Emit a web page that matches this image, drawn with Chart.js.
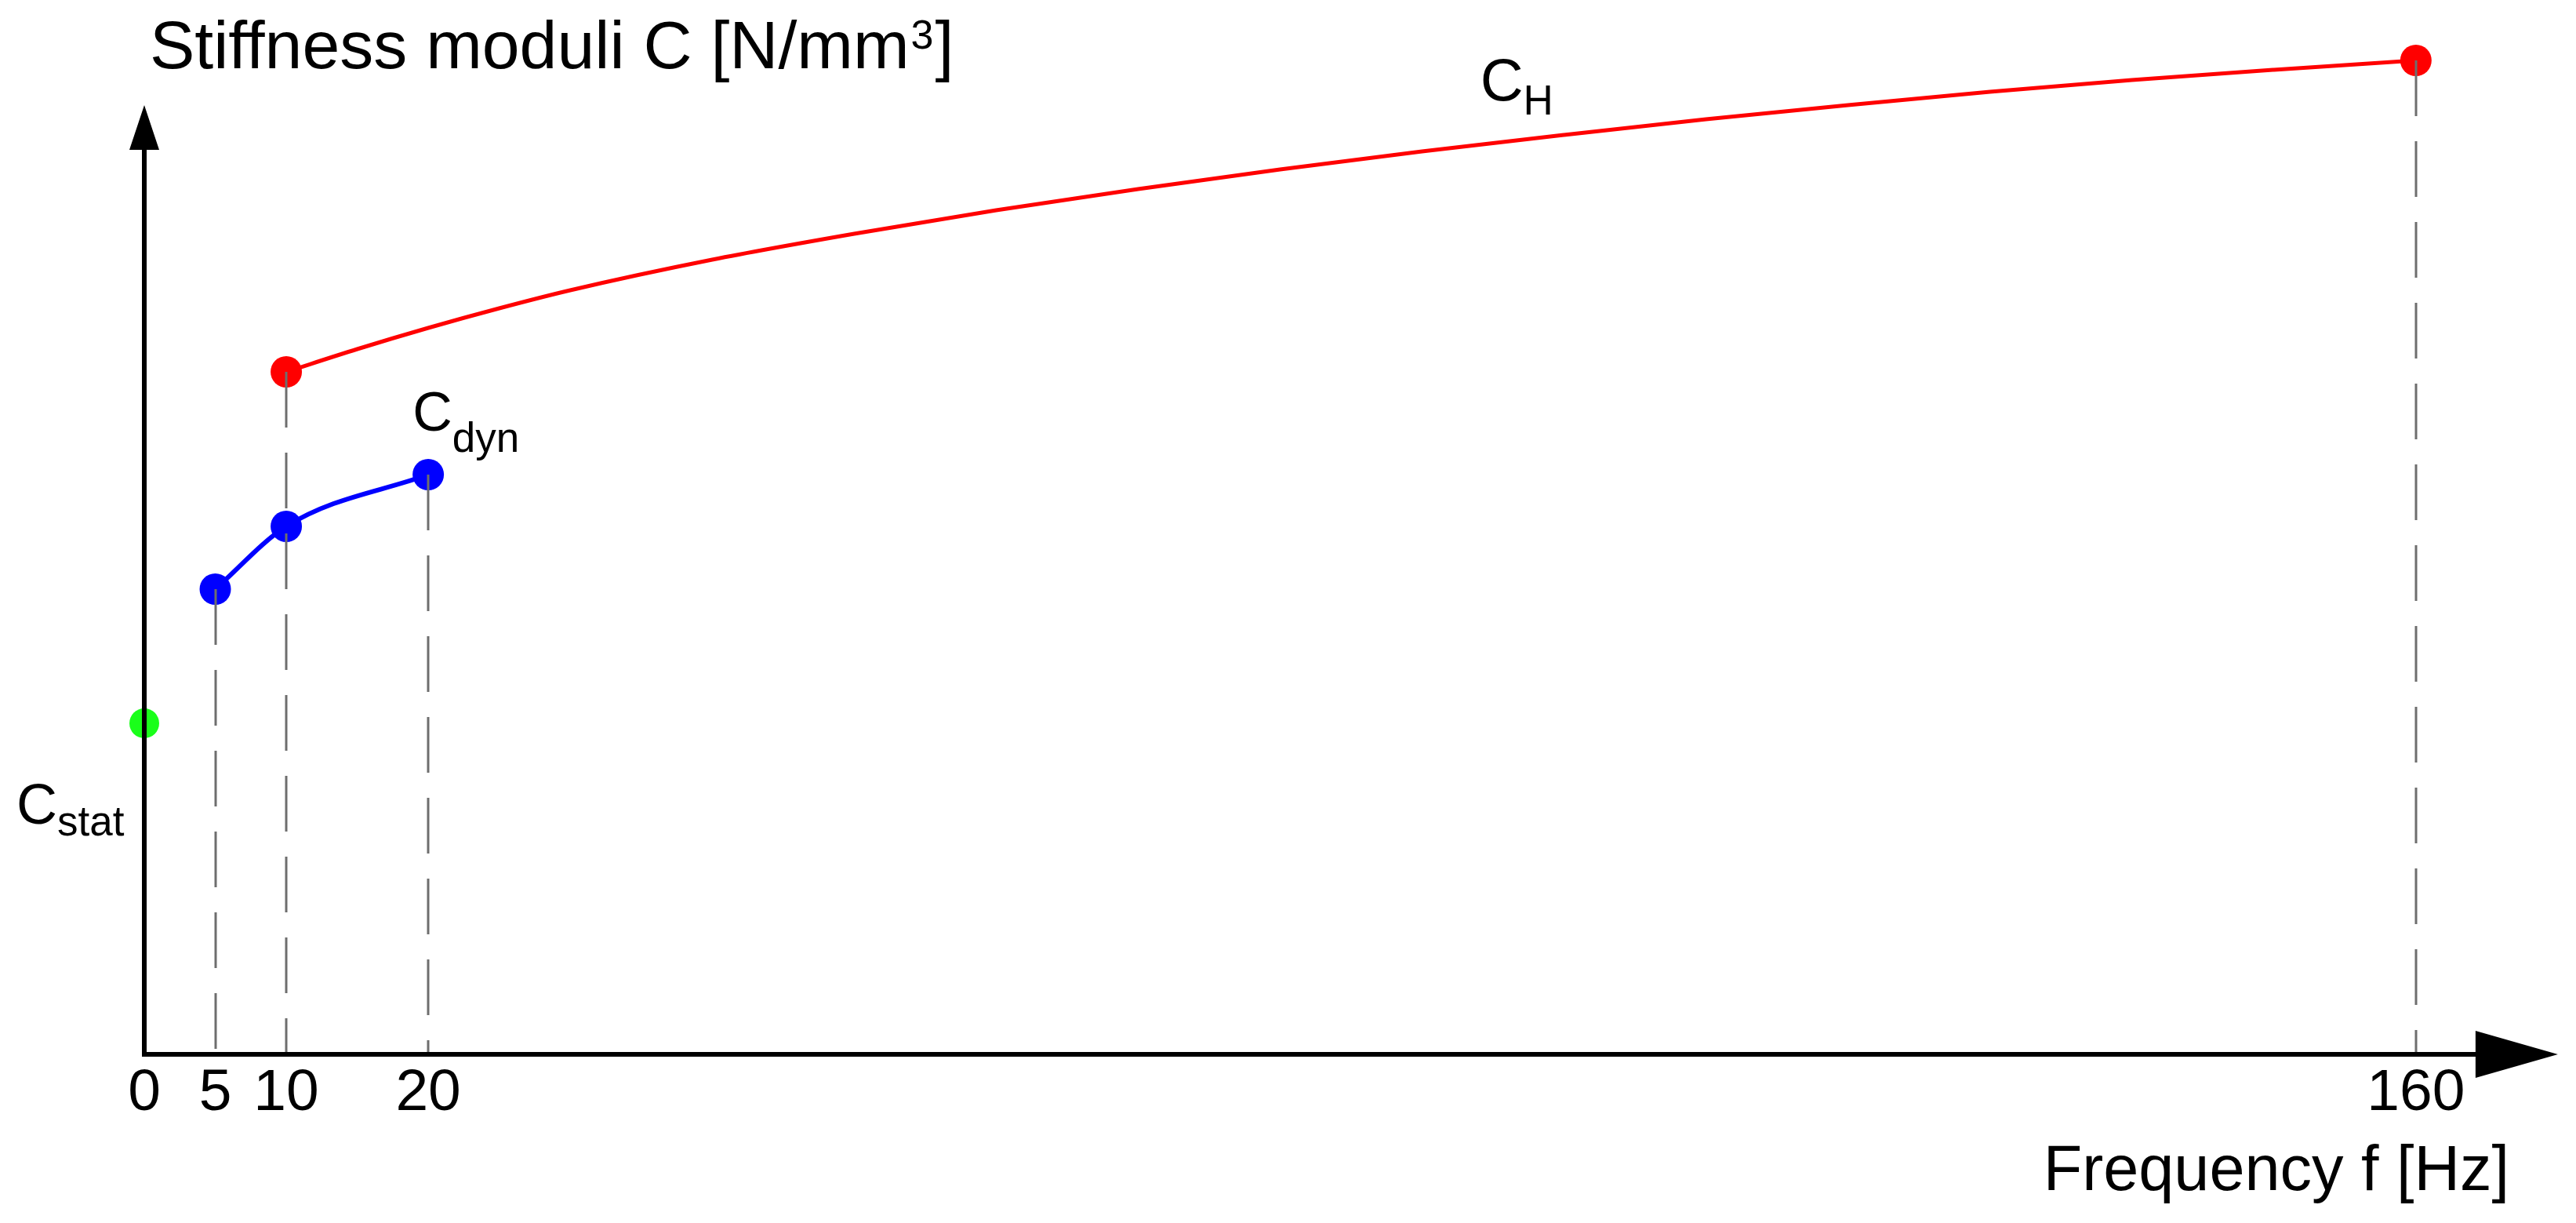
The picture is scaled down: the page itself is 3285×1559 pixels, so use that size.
<!DOCTYPE html>
<html>
<head>
<meta charset="utf-8">
<script src="https://cdn.jsdelivr.net/npm/chart.js@4.4.1/dist/chart.umd.min.js"></script>
<style>
  html, body { margin: 0; padding: 0; background: #fff; }
  canvas { display: block; }
</style>
</head>
<body>
<canvas id="stiffnessChart" width="3285" height="1559"></canvas>
<script>
(function () {
    // values (y is in arbitrary units, the figure has no y ticks)
    var xTicks = [0, 5, 10, 20, 160];
    var statFreq = [0];
    var statValues = [42.2];
    var dynFreq = [5, 10, 20];
    var dynValues = [59.3, 67.3, 73.9];
    var hFreq = [10, 15, 20, 25, 30, 40, 50, 60, 70, 80, 90, 100, 110, 120, 130, 140, 150, 160];
    var hValues = [87.0, 89.9, 92.6, 95.1, 97.4, 101.3, 104.6, 107.6, 110.3, 112.8, 115.1, 117.2, 119.2, 121.0, 122.7, 124.2, 125.5, 126.7];

    var xMax = 171, yMax = 131;
    var xArrowTip = 170, yArrowTip = 121;
    var FONT = '"Liberation Sans", Arial, sans-serif';

    function toPoints(xs, ys) {
        return xs.map(function (x, i) { return { x: x, y: ys[i] }; });
    }

    var decorPlugin = {
        id: 'decor',
        afterDatasetsDraw: function (chart) {
            var ctx = chart.ctx;
            var xs = chart.scales.x, ys = chart.scales.y;
            var x0 = xs.getPixelForValue(0), y0 = ys.getPixelForValue(0);

            // dashed drop lines, one per frequency, from the highest marker down to the axis
            var tops = {};
            chart.data.datasets.forEach(function (ds, di) {
                if (!ds.dropLines) return;
                chart.getDatasetMeta(di).data.forEach(function (pt, i) {
                    if (ds.dropLines.indexOf(i) < 0) return;
                    var key = Math.round(pt.x);
                    if (tops[key] === undefined || pt.y < tops[key]) tops[key] = pt.y;
                });
            });
            ctx.save();
            ctx.strokeStyle = '#6e6e6e';
            ctx.lineWidth = 3;
            ctx.setLineDash([71, 32]);
            Object.keys(tops).forEach(function (k) {
                ctx.beginPath();
                ctx.moveTo(+k, tops[k]);
                ctx.lineTo(+k, y0);
                ctx.stroke();
            });
            ctx.restore();

            // axes with arrow heads
            var xTip = xs.getPixelForValue(xArrowTip);
            var yTip = ys.getPixelForValue(yArrowTip);
            ctx.save();
            ctx.strokeStyle = '#000';
            ctx.fillStyle = '#000';
            ctx.lineWidth = 6;
            ctx.beginPath();
            ctx.moveTo(x0 - 3, y0);
            ctx.lineTo(xTip - 100, y0);
            ctx.moveTo(x0, y0 + 3);
            ctx.lineTo(x0, yTip + 52);
            ctx.stroke();
            ctx.beginPath();
            ctx.moveTo(xTip, y0);
            ctx.lineTo(xTip - 105, y0 - 30);
            ctx.lineTo(xTip - 105, y0 + 30);
            ctx.closePath();
            ctx.fill();
            ctx.beginPath();
            ctx.moveTo(x0, yTip);
            ctx.lineTo(x0 - 19, yTip + 57);
            ctx.lineTo(x0 + 19, yTip + 57);
            ctx.closePath();
            ctx.fill();
            ctx.restore();
        },
        afterDraw: function (chart) {
            var ctx = chart.ctx;
            var xs = chart.scales.x, ys = chart.scales.y;
            ctx.save();
            ctx.fillStyle = '#000';
            ctx.textBaseline = 'alphabetic';

            // y axis title with a raised 3
            ctx.textAlign = 'left';
            var tx = 191;
            ctx.font = '86px ' + FONT;
            ctx.fillText('Stiffness moduli C [N/mm', tx, 87);
            tx += ctx.measureText('Stiffness moduli C [N/mm').width + 2;
            ctx.font = '52px ' + FONT;
            ctx.fillText('3', tx, 62);
            tx += ctx.measureText('3').width + 2;
            ctx.font = '86px ' + FONT;
            ctx.fillText(']', tx, 87);

            ctx.textAlign = 'right';
            ctx.font = '81px ' + FONT;
            ctx.fillText('Frequency f [Hz]', 3200, 1517);

            // series names: anchored in data units, subscript dropped below the C
            var names = [
                { sub: 'stat', x: -9.0, y: 29.4, size: 72, drop: 15 },
                { sub: 'dyn', x: 18.9, y: 79.5, size: 70, drop: 27 },
                { sub: 'H', x: 94.1, y: 121.6, size: 76, drop: 18 }
            ];
            ctx.textAlign = 'left';
            names.forEach(function (n) {
                var px = xs.getPixelForValue(n.x), py = ys.getPixelForValue(n.y);
                ctx.font = n.size + 'px ' + FONT;
                ctx.fillText('C', px, py);
                var w = ctx.measureText('C').width;
                ctx.font = '53px ' + FONT;
                ctx.fillText(n.sub, px + w, py + n.drop);
            });
            ctx.restore();
        }
    };

    var ctx = document.getElementById('stiffnessChart');
    new Chart(ctx, {
        type: 'scatter',
        data: {
            datasets: [
                {
                    label: 'C_H',
                    data: toPoints(hFreq, hValues),
                    showLine: true,
                    borderColor: '#ff0000',
                    borderWidth: 5,
                    backgroundColor: '#ff0000',
                    pointBackgroundColor: '#ff0000',
                    pointBorderWidth: 0,
                    pointRadius: function (c) { return (c.dataIndex === 0 || c.dataIndex === hFreq.length - 1) ? 20 : 0; },
                    cubicInterpolationMode: 'monotone',
                    clip: false,
                    dropLines: [0, hFreq.length - 1]
                },
                {
                    label: 'C_dyn',
                    data: toPoints(dynFreq, dynValues),
                    showLine: true,
                    borderColor: '#0000ff',
                    borderWidth: 6,
                    backgroundColor: '#0000ff',
                    pointBackgroundColor: '#0000ff',
                    pointBorderWidth: 0,
                    pointRadius: 20,
                    cubicInterpolationMode: 'monotone',
                    clip: false,
                    dropLines: [0, 1, 2]
                },
                {
                    label: 'C_stat',
                    data: toPoints(statFreq, statValues),
                    showLine: false,
                    backgroundColor: '#1aff1a',
                    pointBackgroundColor: '#1aff1a',
                    pointBorderWidth: 0,
                    pointRadius: 19,
                    clip: false
                }
            ]
        },
        options: {
            responsive: false,
            animation: false,
            devicePixelRatio: 1,
            layout: { autoPadding: false, padding: { top: 34, right: 5, bottom: 0, left: 0 } },
            plugins: { legend: { display: false }, tooltip: { enabled: false } },
            scales: {
                x: {
                    type: 'linear',
                    min: 0,
                    max: xMax,
                    grid: { display: false, drawTicks: false },
                    border: { display: false },
                    ticks: {
                        autoSkip: false,
                        maxRotation: 0,
                        padding: 5,
                        color: '#000',
                        font: { size: 75, family: FONT }
                    },
                    afterBuildTicks: function (s) {
                        s.ticks = xTicks.map(function (v) { return { value: v }; });
                    },
                    afterFit: function (s) {
                        s.height = 215;
                        s.paddingLeft = 0;
                        s.paddingRight = 0;
                    }
                },
                y: {
                    type: 'linear',
                    min: 0,
                    max: yMax,
                    grid: { display: false, drawTicks: false },
                    border: { display: false },
                    ticks: { display: false },
                    afterFit: function (s) {
                        s.width = 184;
                        s.paddingTop = 0;
                        s.paddingBottom = 0;
                    }
                }
            }
        },
        plugins: [decorPlugin]
    });
})();
</script>
</body>
</html>
